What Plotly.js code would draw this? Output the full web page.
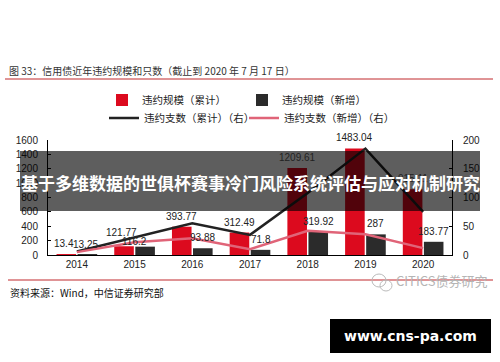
<!DOCTYPE html>
<html>
<head>
<meta charset="utf-8">
<script src="https://cdn.plot.ly/plotly-3.0.1.min.js"></script>
<style>html,body{margin:0;padding:0;background:#fff;}#chart{width:500px;height:362px;}</style>
</head>
<body>
<div id="chart"></div>
<script>
// ---- data ----
var years = ['2014', '2015', '2016', '2017', '2018', '2019', '2020'];
var cumAmount = [13.4, 121.77, 393.77, 312.49, 1209.61, 1483.04, 915.11];
var newAmount = [13.25, 116.2, 93.88, 71.8, 319.92, 287, 183.77];
var cumCount = [6, 31, 55, 35, 108, 185, 75];
var newCount = [5, 22, 29, 10, 42, 36, 12];
var leftTicks = [0, 200, 400, 600, 800, 1000, 1200, 1400, 1600];
var rightTicks = [0, 50, 100, 150, 200];

var seriesNames = ['违约规模（累计）', '违约规模（新增）', '违约支数（累计）（右）', '违约支数（新增）（右）'];
var titleText = '图 33：信用债近年违约规模和只数（截止到 2020 年 7 月 17 日）';
var sourceText = '资料来源：Wind，中信证券研究部';
var bannerText = '基于多维数据的世俱杯赛事冷门风险系统评估与应对机制研究';

// ---- layout helpers (pixel -> paper) ----
var L = 48, R = 452, T = 140, B = 255;
function px(x) { return (x - L) / (R - L); }
function py(y) { return (B - y) / (B - T); }

var FONT = 'Liberation Sans, Arial, Noto Sans CJK SC, sans-serif';
var CJK = 'Noto Sans CJK SC, Liberation Sans, sans-serif';

// label placement (pixel offsets from the bar group centre); a few labels are nudged as in the source
var GROUP_OFFSET = 10.5;
var LABEL_LIFT = 3;
var labelNudge = {
  '2014': {cum: [-2.5, 0], add: [-1.5, -1]},
  '2015': {cum: [-2.5, 3], add: [-10.5, -5]}
};

var traces = [
  {
    type: 'bar', name: seriesNames[0], x: years, y: cumAmount,
    marker: {color: '#dc0a1e'}, legend: 'legend'
  },
  {
    type: 'bar', name: seriesNames[1], x: years, y: newAmount,
    marker: {color: '#2b2b2b'}, legend: 'legend2'
  },
  {
    type: 'scatter', mode: 'lines', name: seriesNames[2], x: years, y: cumCount, yaxis: 'y2',
    line: {color: '#222222', width: 2.5}, legend: 'legend3'
  },
  {
    type: 'scatter', mode: 'lines', name: seriesNames[3], x: years, y: newCount, yaxis: 'y2',
    line: {color: '#e06478', width: 2.5}, legend: 'legend4'
  }
];

var annotations = [
  {xref: 'paper', yref: 'paper', x: px(7), y: py(70), xanchor: 'left', yanchor: 'middle',
   text: titleText, showarrow: false, font: {family: CJK, size: 10, color: '#333'}},
  {xref: 'paper', yref: 'paper', x: px(8), y: py(292), xanchor: 'left', yanchor: 'middle',
   text: sourceText, showarrow: false, font: {family: CJK, size: 10, color: '#111'}},
  {xref: 'paper', yref: 'paper', x: px(394), y: py(280), xanchor: 'left', yanchor: 'middle',
   text: 'CITICS债券研究', showarrow: false, font: {family: CJK, size: 13, color: '#b5b5b5'}}
];

// on a category axis an annotation's x is the category index
years.forEach(function (yr, i) {
  var n = labelNudge[yr] || {cum: [0, 0], add: [0, 0]};
  annotations.push({
    x: i, y: cumAmount[i], xref: 'x', yref: 'y', xanchor: 'center', yanchor: 'bottom',
    xshift: -GROUP_OFFSET + n.cum[0], yshift: LABEL_LIFT + n.cum[1],
    text: String(cumAmount[i]), showarrow: false, font: {family: FONT, size: 10, color: '#222'}
  });
  annotations.push({
    x: i, y: newAmount[i], xref: 'x', yref: 'y', xanchor: 'center', yanchor: 'bottom',
    xshift: GROUP_OFFSET + n.add[0], yshift: LABEL_LIFT + n.add[1],
    text: String(newAmount[i]), showarrow: false, font: {family: FONT, size: 10, color: '#222'}
  });
});

annotations.push(
  {xref: 'paper', yref: 'paper', x: px(250), y: py(182), xanchor: 'center', yanchor: 'middle',
   text: '<b>' + bannerText + '</b>', showarrow: false, font: {family: CJK, size: 17, color: '#fff'}},
  {xref: 'paper', yref: 'paper', x: px(410), y: py(336), xanchor: 'center', yanchor: 'middle',
   text: '<b>www.cns-pa.com</b>', showarrow: false, font: {family: 'DejaVu Sans, sans-serif', size: 14, color: '#fff'}}
);

function legendAt(xPx, yPx) {
  return {
    orientation: 'v', x: px(xPx), xanchor: 'left', y: py(yPx), yanchor: 'middle',
    font: {family: CJK, size: 10.5, color: '#222'}, bgcolor: 'rgba(0,0,0,0)', borderwidth: 0
  };
}

var layout = {
  width: 500, height: 362, autosize: false,
  margin: {l: L, r: 500 - R, t: T, b: 362 - B, pad: 0},
  paper_bgcolor: '#fff', plot_bgcolor: '#fff',
  font: {family: FONT, size: 10, color: '#222'},
  barmode: 'group', bargap: 0.27, bargroupgap: 0.07,
  showlegend: true,
  legend: legendAt(102, 100),
  legend2: legendAt(242, 100),
  legend3: legendAt(104, 118),
  legend4: legendAt(244, 118),
  xaxis: {
    type: 'category', range: [-0.5, 6.5], showline: true, linecolor: '#000', linewidth: 1,
    ticks: '', showgrid: false, zeroline: false,
    tickfont: {family: FONT, size: 10, color: '#222'}
  },
  yaxis: {
    range: [0, 1600], tickvals: leftTicks, showline: true, linecolor: '#000', linewidth: 1,
    ticks: 'inside', ticklen: 3, tickcolor: '#000', showgrid: false, zeroline: false,
    ticklabelstandoff: 7,
    tickfont: {family: FONT, size: 10, color: '#222'}
  },
  yaxis2: {
    overlaying: 'y', side: 'right', range: [0, 200], tickvals: rightTicks,
    showline: true, linecolor: '#000', linewidth: 1,
    ticks: 'inside', ticklen: 3, tickcolor: '#000', showgrid: false, zeroline: false,
    ticklabelstandoff: 8,
    tickfont: {family: FONT, size: 10, color: '#222'}
  },
  shapes: [
    {type: 'line', xref: 'paper', yref: 'paper', x0: px(5), x1: px(493), y0: py(79), y1: py(79),
     line: {color: '#c0282d', width: 1}},
    {type: 'line', xref: 'paper', yref: 'paper', x0: px(8), x1: px(493), y0: py(280), y1: py(280),
     line: {color: '#c0282d', width: 1}},
    {type: 'rect', xref: 'paper', yref: 'paper', x0: px(20), x1: px(480), y0: py(211), y1: py(151),
     fillcolor: 'rgba(0,0,0,0.63)', line: {width: 0}, layer: 'above'},
    {type: 'rect', xref: 'paper', yref: 'paper', x0: px(330), x1: px(491), y0: py(353), y1: py(319),
     fillcolor: '#000', line: {width: 0}, layer: 'above'},
    {type: 'circle', xref: 'paper', yref: 'paper', x0: px(372), x1: px(386), y0: py(287), y1: py(274),
     line: {color: '#bbb', width: 1}},
    {type: 'circle', xref: 'paper', yref: 'paper', x0: px(380), x1: px(392), y0: py(291), y1: py(280),
     line: {color: '#bbb', width: 1}}
  ],
  annotations: annotations
};

Plotly.newPlot('chart', traces, layout, {displayModeBar: false, staticPlot: true});
</script>
</body>
</html>
